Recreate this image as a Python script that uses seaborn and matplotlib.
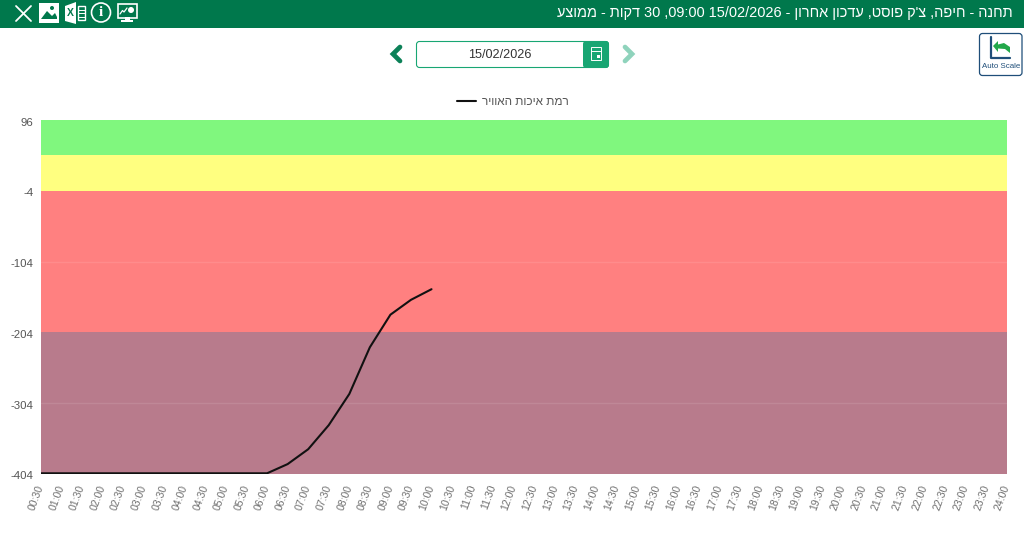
import matplotlib
matplotlib.use("Agg")
import matplotlib.pyplot as plt
from matplotlib.lines import Line2D
from matplotlib.patches import Rectangle, FancyBboxPatch, Circle, Polygon
from matplotlib.transforms import ScaledTranslation
import numpy as np
import pandas as pd
import seaborn as sns

# data
time_labels = ["%02d:%02d" % (h, m) for h in range(24) for m in (0, 30)][1:] + ["24:00"]
measured_times = time_labels[:20]
air_quality = [-403, -403, -403, -403, -403, -403, -403, -403, -403, -403, -403, -403,
               -390, -369, -335, -291, -225, -179, -158, -143]
y_ticks = [96, -4, -104, -204, -304, -404]
band_edges = [96, 46, -4, -204, -404]
band_colors = ["#80F77E", "#FFFF80", "#FF8080", "#B87B8C"]
title_text = "תחנה - חיפה, צ'ק פוסט, עדכון אחרון - 15/02/2026 09:00, 30 דקות - ממוצע"
legend_text = "רמת איכות האוויר"
date_text = "15/02/2026"

HEADER = "#00784C"
TEAL = "#18A673"
NAVY = "#1F4E79"


def visual(s):
    # matplotlib has no bidi, so put the hebrew in display order by hand
    out = []
    for word in s.split(" ")[::-1]:
        if any("\u0590" <= c <= "\u05ff" for c in word):
            out.append(word[::-1])
        elif word.endswith(","):
            out.append("," + word[:-1])
        else:
            out.append(word)
    return " ".join(out)


def to_hours(label):
    h, m = label.split(":")
    return int(h) + int(m) / 60


sns.set_theme(style="white")
plt.rcParams["font.family"] = ["Liberation Sans", "DejaVu Sans"]
plt.rcParams["axes.unicode_minus"] = False

fig = plt.figure(figsize=(10.24, 5.45), dpi=100)
ax = fig.add_axes([41 / 1024, 71 / 545, 966 / 1024, 354 / 545])

for top, bottom, color in zip(band_edges[:-1], band_edges[1:], band_colors):
    ax.axhspan(bottom, top, color=color, lw=0, zorder=0)
for v in [-104, -304]:
    ax.axhline(v, color="white", alpha=0.1, lw=1, zorder=1)

df = pd.DataFrame({"hour": [to_hours(t) for t in measured_times], "value": air_quality})
sns.lineplot(data=df, x="hour", y="value", color="#111111", lw=1.5, ax=ax, zorder=3, legend=False)

ax.set_xlim(0.5, 24)
ax.set_ylim(-404, 96)
ax.set_xlabel("")
ax.set_ylabel("")
ax.set_yticks(y_ticks)
ax.set_xticks([to_hours(t) for t in time_labels])
ax.set_xticklabels(time_labels, rotation=70, ha="right", va="center", rotation_mode="anchor")
ax.tick_params(axis="x", length=0, pad=8, labelsize=7.6, labelcolor="#707070")
ax.tick_params(axis="y", length=0, pad=5.5, labelsize=8.2, labelcolor="#555555")
nudge = ScaledTranslation(0, -1.5 / 100, fig.dpi_scale_trans)
for label in ax.get_yticklabels():
    label.set_transform(label.get_transform() + nudge)
sns.despine(ax=ax, left=True, bottom=True, top=True, right=True)

handle = Line2D([], [], color="#111111", lw=1.5)
fig.legend([handle], [visual(legend_text)], loc="center", bbox_to_anchor=(513 / 1024, 1 - 102 / 545),
           frameon=False, fontsize=8.5, labelcolor="#555555", handlelength=1.55, handletextpad=0.55)

# page furniture in pixel coordinates
ui = fig.add_axes([0, 0, 1, 1], zorder=5)
ui.set_xlim(0, 1024)
ui.set_ylim(545, 0)
ui.axis("off")
ui.patch.set_alpha(0)

ui.add_patch(Rectangle((0, 0), 1024, 28, color=HEADER, lw=0))
ui.text(1013, 12.5, visual(title_text), ha="right", va="center", color="white", fontsize=10.45)

# toolbar icons
ui.plot([16, 31], [6, 21], color="white", lw=1.3)
ui.plot([31, 16], [6, 21], color="white", lw=1.3)
ui.add_patch(Rectangle((39, 3), 20, 20, color="white", lw=0))
ui.add_patch(Polygon([[41, 19], [47, 11], [52, 16], [55, 13], [57, 17], [57, 19]], color=HEADER, lw=0))
ui.add_patch(Circle((52, 8), 2, color=HEADER, lw=0))
ui.add_patch(Polygon([[65, 6], [76, 2], [76, 24], [65, 21]], color="white", lw=0))
ui.text(70.5, 13, "X", color=HEADER, fontsize=7.5, fontweight="bold", ha="center", va="center")
ui.add_patch(Rectangle((77.5, 6), 7.5, 14, fc="none", ec="white", lw=1))
for yy in (9.5, 13, 16.5):
    ui.plot([77.5, 85], [yy, yy], color="white", lw=0.7)
ui.add_patch(Circle((101, 12.5), 9.5, fc="none", ec="white", lw=1.2))
ui.text(101, 12.5, "i", color="white", fontsize=11, fontweight="bold", family="Liberation Serif",
        ha="center", va="center")
ui.add_patch(Rectangle((117.5, 3.5), 19, 14, fc="none", ec="white", lw=1.2))
ui.add_patch(Rectangle((124.5, 17), 5, 3, fc="white", lw=0))
ui.add_patch(Rectangle((121, 20), 12, 2, fc="white", lw=0))
ui.add_patch(Circle((131, 10), 3, color="white", lw=0))
ui.plot([120, 122.5, 124, 127], [14, 10.5, 12, 8], color="white", lw=0.9)

# date picker
ui.add_patch(FancyBboxPatch((416.5, 41.5), 192, 26, boxstyle="round,pad=0,rounding_size=3", fc="white", ec=TEAL, lw=0.8))
ui.add_patch(FancyBboxPatch((583, 41), 26, 27, boxstyle="round,pad=0,rounding_size=3", fc=TEAL, ec=TEAL, lw=0))
ui.text(500, 54.5, date_text, ha="center", va="center", color="#333333", fontsize=9.1)
ui.add_patch(Rectangle((591, 47), 10, 13, fc="none", ec="white", lw=0.7))
ui.plot([591, 601], [50.5, 50.5], color="white", lw=0.7)
ui.add_patch(Rectangle((596.5, 55), 3, 3, fc="white", lw=0))
ui.plot([400, 393, 400], [47, 54, 61], color="#0C8158", lw=3.4, solid_joinstyle="miter")
ui.plot([625, 632, 625], [47, 54, 61], color="#8FD3BC", lw=3.4, solid_joinstyle="miter")

# auto scale button
ui.add_patch(FancyBboxPatch((979.5, 33.5), 42.5, 42, boxstyle="round,pad=0,rounding_size=3", fc="white", ec=NAVY, lw=0.9))
ui.plot([991, 991, 1010], [37, 58, 58], color=NAVY, lw=1.6)
ui.add_patch(Polygon([[993, 46], [998, 41], [998, 44.5], [1004, 43], [1010, 47], [1010, 53], [1005, 49], [998, 48.5], [998, 52]],
                     color="#22A84A", lw=0))
ui.text(1001, 66.5, "Auto Scale", ha="center", va="center", color=NAVY, fontsize=5.7)

fig.savefig("out.png", dpi=100)
